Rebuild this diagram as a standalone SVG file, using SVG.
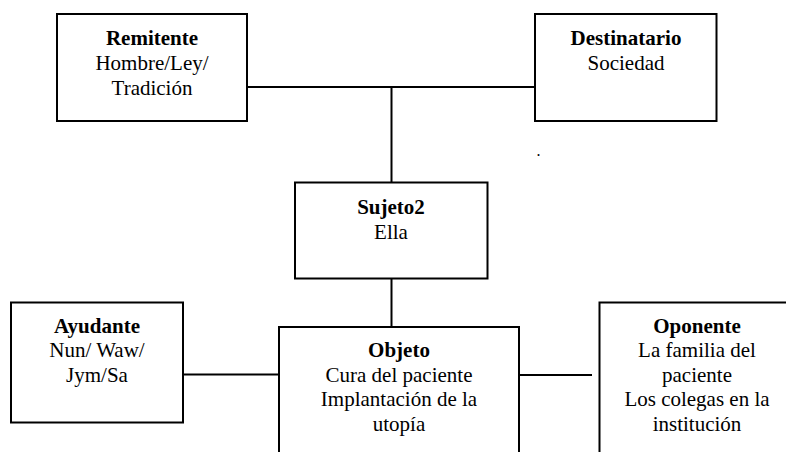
<svg xmlns="http://www.w3.org/2000/svg" width="786" height="452" viewBox="0 0 786 452">
<style>
.box{fill:#fff;stroke:#000;stroke-width:2}
.ln{stroke:#000;stroke-width:2;fill:none}
</style>
<rect width="786" height="452" fill="#fff"/>
<g id="connectors">
<line class="ln" x1="247" y1="87" x2="535" y2="87"/>
<line class="ln" x1="391.5" y1="87" x2="391.5" y2="182"/>
<line class="ln" x1="391.5" y1="278" x2="391.5" y2="327"/>
<line class="ln" x1="183" y1="374.5" x2="279" y2="374.5"/>
<line class="ln" x1="519" y1="375" x2="592" y2="375"/>
</g>
<g font-family="Liberation Serif, Times New Roman, serif" font-size="21" text-anchor="middle" fill="#000">
<g id="remitente">
<rect class="box" x="57" y="14" width="190" height="107"/>
<text x="152" y="45" font-weight="bold">Remitente</text>
<text x="152" y="69.5">Hombre/Ley/</text>
<text x="152" y="95">Tradición</text>
</g>
<g id="destinatario">
<rect class="box" x="535" y="14" width="181.5" height="107"/>
<text x="626" y="45" font-weight="bold">Destinatario</text>
<text x="626" y="70">Sociedad</text>
</g>
<text x="538.5" y="156" font-size="16">.</text>
<g id="sujeto2">
<rect class="box" x="295" y="182.5" width="192.5" height="96"/>
<text x="391" y="213.5" font-weight="bold">Sujeto2</text>
<text x="391" y="238.5">Ella</text>
</g>
<g id="ayudante">
<rect class="box" x="11" y="302.5" width="172" height="120"/>
<text x="97" y="332.5" font-weight="bold">Ayudante</text>
<text x="97" y="357">Nun/ Waw/</text>
<text x="97" y="382">Jym/Sa</text>
</g>
<g id="objeto">
<rect class="box" x="279" y="327" width="240" height="140"/>
<text x="399" y="357" font-weight="bold">Objeto</text>
<text x="399" y="382">Cura del paciente</text>
<text x="399" y="405.5">Implantación de la</text>
<text x="399" y="430.5">utopía</text>
</g>
<g id="oponente">
<rect class="box" x="599.5" y="302.5" width="200" height="170"/>
<text x="697" y="333" font-weight="bold">Oponente</text>
<text x="697" y="357">La familia del</text>
<text x="697" y="382">paciente</text>
<text x="697" y="405.5">Los colegas en la</text>
<text x="697" y="430.5">institución</text>
</g>
</g>
</svg>
